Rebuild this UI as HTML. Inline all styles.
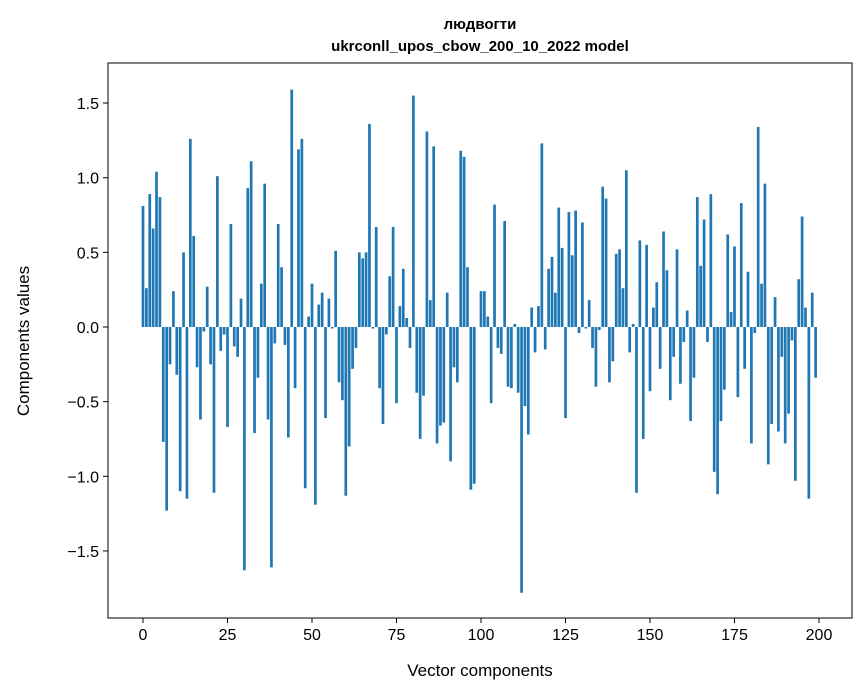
<!DOCTYPE html>
<html><head><meta charset="utf-8"><style>body{margin:0;background:#fff}svg{display:block;font-family:"Liberation Sans","DejaVu Sans",sans-serif}</style></head>
<body>
<svg id="c" width="867" height="696"></svg>
<script>
const values=[0.81,0.26,0.89,0.66,1.04,0.87,-0.77,-1.23,-0.25,0.24,-0.32,-1.10,0.50,-1.15,1.26,0.61,-0.27,-0.62,-0.03,0.27,-0.25,-1.11,1.01,-0.16,-0.05,-0.67,0.69,-0.13,-0.20,0.19,-1.63,0.93,1.11,-0.71,-0.34,0.29,0.96,-0.62,-1.61,-0.11,0.69,0.40,-0.12,-0.74,1.59,-0.41,1.19,1.26,-1.08,0.07,0.29,-1.19,0.15,0.23,-0.61,0.19,-0.01,0.51,-0.37,-0.49,-1.13,-0.80,-0.28,-0.14,0.50,0.46,0.50,1.36,-0.01,0.67,-0.41,-0.65,-0.05,0.34,0.67,-0.51,0.14,0.39,0.06,-0.14,1.55,-0.44,-0.75,-0.46,1.31,0.18,1.21,-0.78,-0.66,-0.64,0.23,-0.90,-0.27,-0.37,1.18,1.14,0.40,-1.09,-1.05,0.00,0.24,0.24,0.07,-0.51,0.82,-0.14,-0.18,0.71,-0.40,-0.41,0.02,-0.44,-1.78,-0.53,-0.72,0.13,-0.17,0.14,1.23,-0.15,0.39,0.47,0.23,0.80,0.53,-0.61,0.77,0.48,0.78,-0.04,0.70,-0.01,0.18,-0.14,-0.40,-0.02,0.94,0.86,-0.37,-0.23,0.49,0.52,0.26,1.05,-0.17,0.02,-1.11,0.58,-0.75,0.55,-0.43,0.13,0.30,-0.28,0.64,0.38,-0.49,-0.20,0.52,-0.38,-0.10,0.11,-0.63,-0.34,0.87,0.41,0.72,-0.10,0.89,-0.97,-1.12,-0.63,-0.42,0.62,0.10,0.54,-0.47,0.83,-0.28,0.37,-0.78,-0.04,1.34,0.29,0.96,-0.92,-0.65,0.20,-0.70,-0.20,-0.78,-0.58,-0.09,-1.03,0.32,0.74,0.13,-1.15,0.23,-0.34];
const xTicks=[0,25,50,75,100,125,150,175,200];
const yTicks=[-1.5,-1.0,-0.5,0.0,0.5,1.0,1.5];
const NS="http://www.w3.org/2000/svg",svg=document.getElementById('c');
const L=108,R=852,T=63,B=618;
const X=v=>143+v*(819-143)/200, Y=v=>327-v*149.3;
function mk(t,a,txt){const e=document.createElementNS(NS,t);for(const k in a)e.setAttribute(k,a[k]);if(txt!==undefined)e.textContent=txt;svg.appendChild(e);return e;}
values.forEach((v,i)=>{const w=0.8*3.38;const y0=Math.min(Y(v),Y(0));
const r=mk('rect',{x:X(i)-w/2,y:y0,width:w,height:Math.abs(Y(v)-Y(0)),fill:'#1f77b4'});

});
const f=mk('rect',{x:L,y:T,width:R-L,height:B-T,fill:'none',stroke:'#000','stroke-width':1});

xTicks.forEach(t=>{mk('line',{x1:X(t),x2:X(t),y1:B,y2:B+5,stroke:'#000'});
const e=mk('text',{x:X(t),y:B+22,'text-anchor':'middle','font-size':16},String(t));
});
yTicks.forEach(t=>{mk('line',{x1:L-5,x2:L,y1:Y(t),y2:Y(t),stroke:'#000'});
const e=mk('text',{x:L-9,y:Y(t)+6,'text-anchor':'end','font-size':16},(t<0?'\u2212':'')+Math.abs(t).toFixed(1));
});
let e;
e=mk('text',{x:480,y:676,'text-anchor':'middle','font-size':17},'Vector components');
e=mk('text',{x:29,y:341,'text-anchor':'middle','font-size':17,transform:'rotate(-90 29 341)'},'Components values');
e=mk('text',{x:480,y:29,'text-anchor':'middle','font-size':15,'font-weight':'bold'},'людвогти');
e=mk('text',{x:480,y:51,'text-anchor':'middle','font-size':15,'font-weight':'bold'},'ukrconll_upos_cbow_200_10_2022 model');
</script>
</body></html>
